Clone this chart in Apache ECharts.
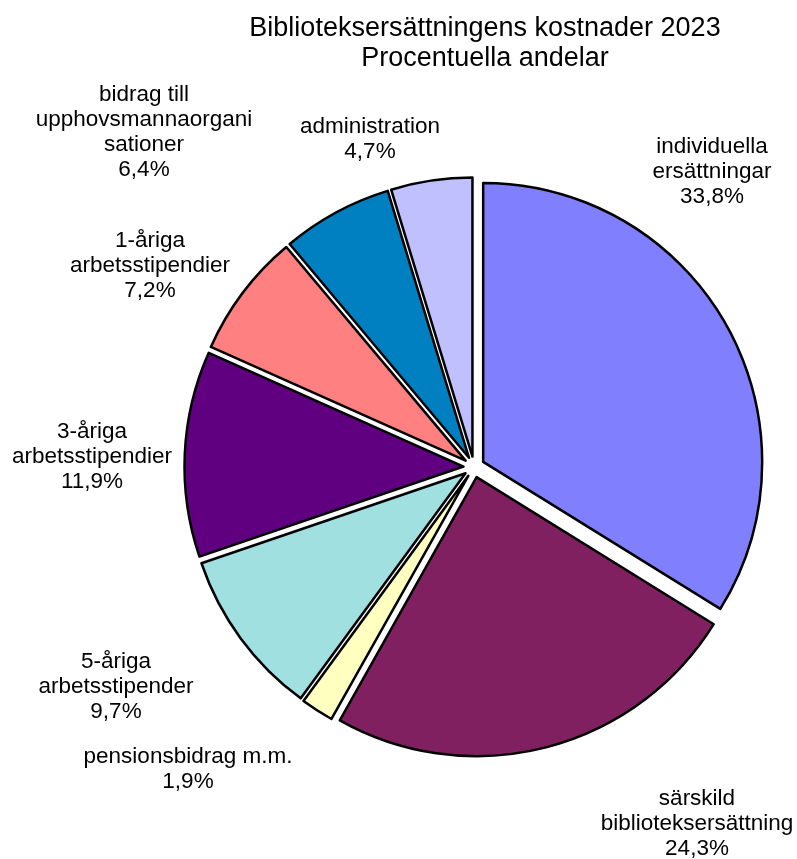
<!DOCTYPE html>
<html><head><meta charset="utf-8">
<script src="https://cdn.jsdelivr.net/npm/echarts@6/dist/echarts.min.js"></script>
<style>html,body{margin:0;padding:0;background:#fff}#c{width:797px;height:859px}</style>
</head><body><div id="c"></div>
<script>
const titleLines = ['Biblioteksersättningens kostnader 2023', 'Procentuella andelar'];
const categories = [
  'individuella\nersättningar',
  'särskild\nbiblioteksersättning',
  'pensionsbidrag m.m.',
  '5-åriga\narbetsstipender',
  '3-åriga\narbetsstipendier',
  '1-åriga\narbetsstipendier',
  'bidrag till\nupphovsmannaorgani\nsationer',
  'administration'
];
const values = [33.8, 24.3, 1.9, 9.7, 11.9, 7.2, 6.4, 4.7];
const colors = ['#8080FF', '#802060', '#FFFFC0', '#A0E0E0', '#600080', '#FF8080', '#0080C0', '#C0C0FF'];
// label block centres (px)
const labelPos = [[712,172],[697,824],[188,769],[116,687],[92,457],[150,266],[144,132],[370,139]];

const fmt = v => v.toFixed(1).replace('.', ',') + '%';
const chart = echarts.init(document.getElementById('c'), null, {renderer: 'canvas'});
const font = 'Liberation Sans, Arial, sans-serif';
chart.setOption({
  animation: false,
  backgroundColor: '#fff',
  title: {
    text: titleLines.join('\n'),
    left: 480, top: 9, textAlign: 'center',
    textStyle: {fontFamily: font, fontSize: 27, fontWeight: 'normal', color: '#000', lineHeight: 30}
  },
  graphic: categories.map((c, i) => ({
    type: 'text',
    x: labelPos[i][0], y: labelPos[i][1],
    silent: true,
    style: {
      text: c + '\n' + fmt(values[i]),
      align: 'center', verticalAlign: 'middle',
      fontFamily: font, fontSize: 22.5, lineHeight: 25, fill: '#000'
    }
  })),
  series: [{
    type: 'pie',
    center: [474, 467],
    radius: [0, 279],
    startAngle: 90,
    clockwise: true,
    selectedMode: 'multiple',
    selectedOffset: 10.5,
    emphasis: {disabled: true},
    select: {itemStyle: {borderColor: '#000', borderWidth: 2.5}},
    itemStyle: {borderColor: '#000', borderWidth: 2.5},
    label: {show: false},
    labelLine: {show: false},
    data: categories.map((c, i) => ({name: c, value: values[i], selected: true, itemStyle: {color: colors[i]}}))
  }]
});
</script>
</body></html>
